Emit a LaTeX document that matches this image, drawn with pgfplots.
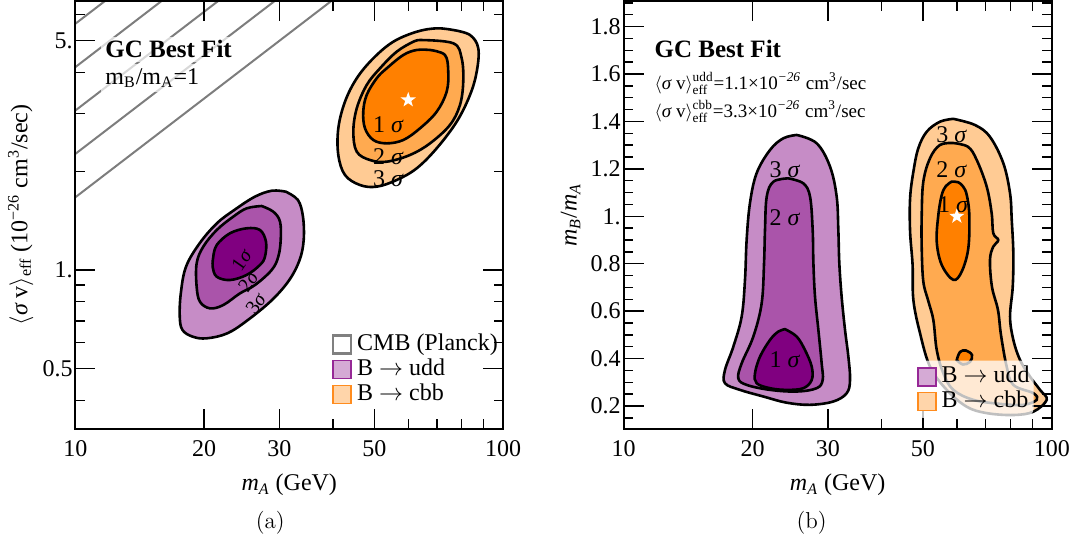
\documentclass[border=0pt]{standalone}
\usepackage{fontspec}
\usepackage{amsmath}
\usepackage{pgfplots}
\pgfplotsset{compat=1.18}
\newfontfamily\tnr{Liberation Serif}
\definecolor{pu1}{RGB}{128,0,128}
\definecolor{pu2}{RGB}{170,84,170}
\definecolor{pu3}{RGB}{198,140,198}
\definecolor{or1}{RGB}{255,128,0}
\definecolor{or2}{RGB}{255,170,80}
\definecolor{or3}{RGB}{255,203,148}
\definecolor{legpu}{RGB}{213,170,213}
\definecolor{legor}{RGB}{255,213,170}
\definecolor{edgepu}{RGB}{150,40,150}
\definecolor{edgeor}{RGB}{255,140,30}
\definecolor{hatch}{RGB}{125,125,125}
\pgfdeclareplotmark{fstar}{%
 \pgfpathmoveto{\pgfpointpolar{90}{\pgfplotmarksize}}%
 \pgfpathlineto{\pgfpointpolar{126}{0.4\pgfplotmarksize}}%
 \pgfpathlineto{\pgfpointpolar{162}{\pgfplotmarksize}}%
 \pgfpathlineto{\pgfpointpolar{198}{0.4\pgfplotmarksize}}%
 \pgfpathlineto{\pgfpointpolar{234}{\pgfplotmarksize}}%
 \pgfpathlineto{\pgfpointpolar{270}{0.4\pgfplotmarksize}}%
 \pgfpathlineto{\pgfpointpolar{306}{\pgfplotmarksize}}%
 \pgfpathlineto{\pgfpointpolar{342}{0.4\pgfplotmarksize}}%
 \pgfpathlineto{\pgfpointpolar{18}{\pgfplotmarksize}}%
 \pgfpathlineto{\pgfpointpolar{54}{0.4\pgfplotmarksize}}%
 \pgfpathclose
 \pgfusepathqfill
}
\pgfplotsset{
  every axis/.append style={
    scale only axis, height=214pt,
    xmin=10, xmax=100,
    xtick={10,20,30,50,100}, xticklabels={10,20,30,50,100},
    minor xtick={40,60,70,80,90},
    major tick length=10pt, minor tick length=4.8pt,
    tick style={black, line width=0.7pt},
    axis line style={line width=1pt},
    axis on top,
    tick label style={font=\tnr\fontsize{12}{14}\selectfont},
    label style={font=\tnr\fontsize{12}{14}\selectfont},
    xticklabel style={yshift=-2.3pt},
    yticklabel style={xshift=2.1pt},
    xlabel style={at={(axis description cs:0.5,0)}, anchor=center, yshift=-28pt},
    legend cell align=left,
  },
  cont/.style={draw=black, line width=1.3pt, smooth, tension=0.6, forget plot},
  hl/.style={hatch, line width=1pt, forget plot},
}
\tikzset{lab/.style={font=\tnr\fontsize{12}{14}\selectfont, inner sep=0pt}}
\begin{document}
\begin{tikzpicture}
\useasboundingbox (0,0) rectangle (537.5pt,-275pt);
% ---------------- panel (a)
\begin{axis}[at={(37.7pt,-0.5pt)}, anchor=north west, width=213.85pt,
  xmode=log, ymode=log, ymin=0.3275, ymax=6.61,
  ytick={0.5,1,5}, yticklabels={0.5,1.,5.},
  minor ytick={0.4,0.6,0.7,0.8,0.9,2,3,4,6},
  xlabel={\textit{m}\textsubscript{\textit{A}} (GeV)},
  ylabel={$\langle${\itshape σ} v$\rangle$\textsubscript{eff} (10\textsuperscript{−26} cm\textsuperscript{3}/sec)},
  ylabel style={at={(axis description cs:-0.1279,0.5)}, anchor=center},
  legend style={at={(axis description cs:0.598,0.2273)}, anchor=north west, draw=none, fill=none,
    inner sep=0pt, row sep=0pt, column sep=2.5pt, font=\tnr\fontsize{12}{14}\selectfont,
    nodes={inner sep=0pt, text height=9pt, text depth=3.5pt}},
]
% CMB (Planck) excluded region: hatch lines parallel to the boundary
\addplot[hl] coordinates {(10,1.6667) (42,7)};
\addplot[hl] coordinates {(10,2.260) (30.97,7)};
\addplot[hl] coordinates {(10,3.065) (22.84,7)};
\addplot[hl] coordinates {(10,4.156) (16.84,7)};
\addplot[hl] coordinates {(10,5.636) (12.42,7)};
% purple
\addplot[cont, fill=pu3] coordinates {(31.03,1.733) (33.13,1.635) (34.05,1.454) (34.18,1.234) (33.44,1.073) (31.63,0.932) (28.82,0.810) (25.31,0.704) (22.65,0.641) (20.27,0.619) (18.82,0.626) (17.80,0.656) (17.54,0.720) (17.64,0.849) (18.14,1.023) (19.52,1.206) (21.42,1.388) (23.51,1.523) (26.28,1.673) (28.82,1.745) (31.03,1.733)} --cycle;
\addplot[cont, fill=pu2] coordinates {(27.26,1.567) (29.02,1.506) (30.09,1.404) (30.20,1.234) (29.81,1.098) (28.77,1.0) (26.30,0.900) (24.26,0.849) (22.17,0.782) (20.64,0.764) (19.56,0.800) (19.21,0.889) (19.21,1.048) (19.91,1.178) (21.40,1.324) (23.39,1.454) (25.15,1.542) (27.26,1.567)} --cycle;
\addplot[cont, fill=pu1] coordinates {(21.01,1.098) (21.40,1.192) (22.98,1.294) (25.15,1.340) (27.01,1.324) (27.90,1.220) (27.75,1.098) (27.01,1.036) (25.15,0.966) (22.98,0.932) (21.40,0.954) (20.94,1.023) (21.01,1.098)} --cycle;
% orange
\addplot[cont, fill=or3] coordinates {(76.47,5.391) (83.68,5.206) (87.50,4.742) (86.76,4.023) (83.68,3.417) (77.90,2.832) (69.95,2.350) (62.81,2.042) (56.39,1.881) (50.63,1.795) (46.28,1.816) (42.69,1.948) (41.18,2.242) (41.18,2.704) (42.69,3.260) (45.48,3.842) (49.72,4.420) (55.37,4.966) (62.81,5.327) (69.95,5.456) (76.47,5.391)} --cycle;
\addplot[cont, fill=or2] coordinates {(63.94,5.026) (76.47,4.912) (80.00,4.420) (80.69,3.751) (79.28,3.184) (75.11,2.768) (67.47,2.433) (60.58,2.242) (53.44,2.139) (48.85,2.164) (45.48,2.294) (44.65,2.641) (45.48,3.112) (47.98,3.665) (51.54,4.120) (56.39,4.630) (61.66,4.966) (63.94,5.026)} --cycle;
\addplot[cont, fill=or1] coordinates {(67.47,4.686) (73.13,4.524) (74.44,4.023) (73.80,3.496) (69.95,3.038) (63.94,2.704) (58.44,2.491) (53.44,2.433) (49.72,2.491) (47.54,2.704) (47.10,3.038) (47.98,3.417) (50.63,3.842) (53.44,4.120) (58.44,4.524) (62.81,4.686) (67.47,4.686)} --cycle;
\addplot[only marks, mark=fstar, mark size=4pt, color=white, forget plot] coordinates {(60,3.3)};
\node[lab] at (axis cs:53.9,2.768) {1 \textit{σ}};
\node[lab] at (axis cs:53.9,2.215) {2 \textit{σ}};
\node[lab] at (axis cs:53.9,1.904) {3 \textit{σ}};
\node[lab, font=\tnr\fontsize{10}{12}\selectfont, rotate=55] at (axis cs:24.48,1.073) {1\textit{σ}};
\node[lab, font=\tnr\fontsize{10}{12}\selectfont, rotate=55] at (axis cs:25.37,0.921) {2\textit{σ}};
\node[lab, font=\tnr\fontsize{10}{12}\selectfont, rotate=55] at (axis cs:26.44,0.792) {3\textit{σ}};
\node[anchor=west, font=\tnr\bfseries\fontsize{12.5}{14}\selectfont, fill=white, fill opacity=0.7, text opacity=1, inner sep=2pt]
  at (axis description cs:0.0599,0.8871) {GC Best Fit};
\node[anchor=west, font=\tnr\fontsize{12}{14}\selectfont, fill=white, fill opacity=0.7, text opacity=1, inner sep=2pt]
  at (axis description cs:0.0599,0.8201) {m\textsubscript{B}/m\textsubscript{A}=1};
\addlegendimage{legend image code/.code={\draw[draw=gray, fill=white, line width=1.3pt, sharp corners] (0pt,-4.5pt) rectangle (9pt,4.5pt);}}
\addlegendentry{CMB (Planck)}
\addlegendimage{legend image code/.code={\draw[draw=edgepu, fill=legpu, line width=0.8pt, sharp corners] (0pt,-4.5pt) rectangle (9pt,4.5pt);}}
\addlegendentry{B $\rightarrow$ udd}
\addlegendimage{legend image code/.code={\draw[draw=edgeor, fill=legor, line width=0.8pt, sharp corners] (0pt,-4.5pt) rectangle (9pt,4.5pt);}}
\addlegendentry{B $\rightarrow$ cbb}
\end{axis}
% ---------------- panel (b)
\begin{axis}[at={(311.8pt,-0.5pt)}, anchor=north west, width=214.1pt,
  xmode=log, ymin=0.103, ymax=1.908,
  ytick={0.2,0.4,0.6,0.8,1.0,1.2,1.4,1.6,1.8}, yticklabels={0.2,0.4,0.6,0.8,1.,1.2,1.4,1.6,1.8},
  minor ytick={0.15,0.25,0.3,0.35,0.45,0.5,0.55,0.65,0.7,0.75,0.85,0.9,0.95,1.05,1.1,1.15,1.25,1.3,1.35,1.45,1.5,1.55,1.65,1.7,1.75,1.85,1.9},
  xlabel={\textit{m}\textsubscript{\textit{A}} (GeV)},
  ylabel={\textit{m}\textsubscript{\textit{B}}/\textit{m}\textsubscript{\textit{A}}},
  ylabel style={at={(axis description cs:-0.1238,0.5)}, anchor=center},
  legend style={at={(axis description cs:0.675,0.1605)}, anchor=north west, draw=none, fill=white, fill opacity=0.75, text opacity=1,
    rounded corners=5pt, inner sep=2pt, row sep=0pt, column sep=2.5pt, font=\tnr\fontsize{12}{14}\selectfont,
    nodes={inner sep=0pt, text height=9pt, text depth=3.3pt}},
]
% purple
\addplot[cont, fill=pu3] coordinates {(25.36,1.343) (28.24,1.308) (30.34,1.210) (31.45,1.083) (31.73,0.943) (31.90,0.802) (32.30,0.661) (32.89,0.521) (33.49,0.408) (33.79,0.310) (33.19,0.254) (30.89,0.219) (27.25,0.205) (24.03,0.214) (21.20,0.240) (18.70,0.268) (17.25,0.296) (17.25,0.352) (18.04,0.450) (18.87,0.577) (19.21,0.732) (19.38,0.900) (19.73,1.055) (20.45,1.182) (21.98,1.280) (23.60,1.329) (25.36,1.343)} --cycle;
\addplot[cont, fill=pu2] coordinates {(24.25,1.160) (26.28,1.139) (27.25,1.083) (27.64,0.943) (27.75,0.802) (27.99,0.661) (28.50,0.521) (29.01,0.380) (29.17,0.310) (28.24,0.275) (25.36,0.261) (21.98,0.268) (19.38,0.289) (18.53,0.317) (18.87,0.380) (20.09,0.493) (21.01,0.633) (21.28,0.802) (21.39,0.943) (21.59,1.083) (22.38,1.146) (24.25,1.160)} --cycle;
\addplot[cont, fill=pu1] coordinates {(23.82,0.524) (25.36,0.493) (26.52,0.436) (27.50,0.366) (27.50,0.310) (26.28,0.275) (24.03,0.268) (21.98,0.275) (20.45,0.296) (20.27,0.338) (20.82,0.408) (21.98,0.479) (22.98,0.514) (23.82,0.524)} --cycle;
% orange
\addplot[cont, fill=or3] coordinates {(58.88,1.411) (66.16,1.385) (71.72,1.335) (77.05,1.224) (79.89,1.097) (80.62,0.985) (81.31,0.844) (81.05,0.703) (79.89,0.577) (81.31,0.479) (84.30,0.394) (88.95,0.324) (93.85,0.268) (97.30,0.226) (90.55,0.176) (81.31,0.162) (70.47,0.170) (63.29,0.197) (56.83,0.268) (51.95,0.366) (49.23,0.507) (47.50,0.647) (47.30,0.795) (46.67,0.935) (46.67,1.076) (47.50,1.188) (48.78,1.287) (51.05,1.357) (54.82,1.399) (58.88,1.411)} --cycle;
\addplot[cont, fill=or2] coordinates {(58.88,1.309) (63.73,1.293) (66.77,1.238) (70.47,1.125) (72.37,1.013) (73.00,0.929) (75.00,0.900) (73.00,0.872) (71.72,0.816) (72.49,0.703) (74.87,0.605) (76.09,0.500) (78.46,0.366) (81.31,0.289) (90.55,0.254) (92.20,0.226) (85.79,0.205) (75.68,0.209) (65.56,0.226) (58.88,0.268) (55.80,0.338) (53.86,0.436) (52.88,0.563) (51.39,0.647) (50.11,0.725) (49.68,0.865) (49.68,1.006) (50.11,1.146) (51.95,1.245) (54.82,1.301) (58.88,1.309)} --cycle;
\addplot[cont, fill=or1] coordinates {(58.37,1.146) (60.40,1.144) (62.10,1.125) (63.30,1.090) (64.17,1.006) (63.83,0.865) (61.61,0.767) (58.88,0.732) (55.33,0.795) (53.86,0.893) (54.33,1.006) (55.33,1.090) (56.60,1.128) (58.37,1.146)} --cycle;
\addplot[cont, fill=or1] coordinates {(59.98,0.394) (61.05,0.428) (63.06,0.434) (65.10,0.415) (64.41,0.386) (62.00,0.375) (59.98,0.394)} --cycle;
\addplot[only marks, mark=fstar, mark size=4pt, color=white, forget plot] coordinates {(60,1.0)};
\node[lab] at (axis cs:23.82,1.196) {3 \textit{σ}};
\node[lab] at (axis cs:23.82,0.996) {2 \textit{σ}};
\node[lab] at (axis cs:23.82,0.394) {1 \textit{σ}};
\node[lab] at (axis cs:58.37,1.343) {3 \textit{σ}};
\node[lab] at (axis cs:58.37,1.196) {2 \textit{σ}};
\node[lab] at (axis cs:58.88,1.048) {1 \textit{σ}};
\node[anchor=west, font=\tnr\bfseries\fontsize{12.5}{14}\selectfont, inner sep=2pt]
  at (axis description cs:0.0623,0.8871) {GC Best Fit};
\node[anchor=west, font=\tnr\fontsize{9.5}{11}\selectfont, inner sep=2pt]
  at (axis description cs:0.0623,0.8077) {$\langle${\itshape σ} v$\rangle^{\text{udd}}_{\text{eff}}$=1.1×10\textsuperscript{\textit{−26}} cm\textsuperscript{3}/sec};
\node[anchor=west, font=\tnr\fontsize{9.5}{11}\selectfont, inner sep=2pt]
  at (axis description cs:0.0623,0.7414) {$\langle${\itshape σ} v$\rangle^{\text{cbb}}_{\text{eff}}$=3.3×10\textsuperscript{\textit{−26}} cm\textsuperscript{3}/sec};
\addlegendimage{legend image code/.code={\draw[draw=edgepu, fill=legpu, fill opacity=1, line width=0.8pt, sharp corners] (0pt,-4.5pt) rectangle (9pt,4.5pt);}}
\addlegendentry{B $\rightarrow$ udd}
\addlegendimage{legend image code/.code={\draw[draw=edgeor, fill=legor, fill opacity=1, line width=0.8pt, sharp corners] (0pt,-4.5pt) rectangle (9pt,4.5pt);}}
\addlegendentry{B $\rightarrow$ cbb}
\end{axis}
\node[font=\fontsize{11.5}{13}\selectfont] at (135.15pt,-261.5pt) {(a)};
\node[font=\fontsize{11.5}{13}\selectfont] at (405.8pt,-261.5pt) {(b)};
\end{tikzpicture}
\end{document}
